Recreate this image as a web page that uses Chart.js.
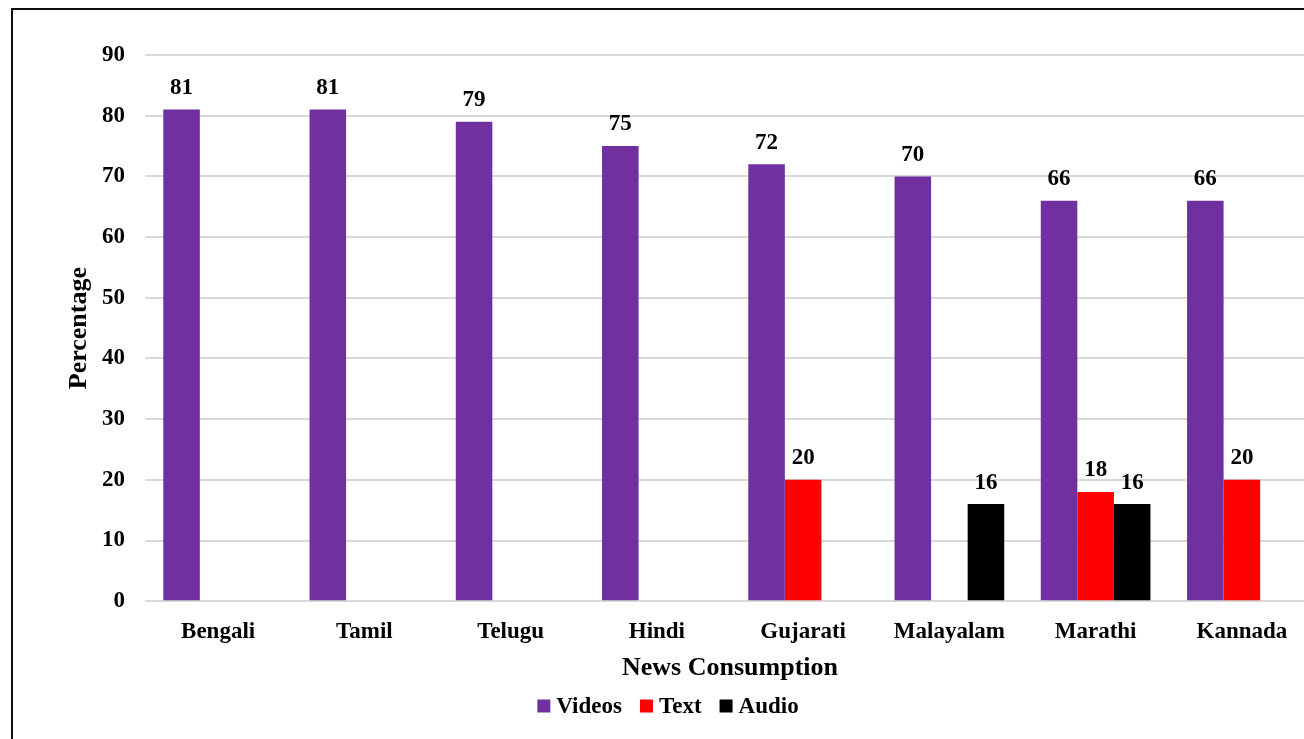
<!DOCTYPE html>
<html>
<head>
<meta charset="utf-8">
<script src="https://cdn.jsdelivr.net/npm/chart.js@4.4.0/dist/chart.umd.min.js"></script>
<style>
    html, body { margin: 0; padding: 0; background: #fff; overflow: hidden; width: 1304px; height: 739px; }
    #frame { position: absolute; left: 11px; top: 8px; width: 1340px; height: 780px; border: 2px solid #111; }
    #wrap { position: absolute; left: 0; top: 0; width: 1330px; height: 739px; }
</style>
</head>
<body>
<div id="frame"></div>
<div id="wrap"><canvas id="chart"></canvas></div>
<script>
// News consumption by language
const languages = ["Bengali", "Tamil", "Telugu", "Hindi", "Gujarati", "Malayalam", "Marathi", "Kannada"];
const videos = [81, 81, 79, 75, 72, 70, 66, 66];
const text = [null, null, null, null, 20, null, 18, 20];
const audio = [null, null, null, null, null, 16, 16, null];
const yTicks = [0, 10, 20, 30, 40, 50, 60, 70, 80, 90];

const serif = "'Liberation Serif', 'Times New Roman', serif";

// draws the value above each bar
const barLabels = {
    id: "barLabels",
    afterDatasetsDraw(chart) {
        const ctx = chart.ctx;
        ctx.save();
        ctx.font = "bold 23px " + serif;
        ctx.fillStyle = "#000";
        ctx.textAlign = "center";
        ctx.textBaseline = "bottom";
        chart.data.datasets.forEach((ds, i) => {
            const meta = chart.getDatasetMeta(i);
            meta.data.forEach((bar, j) => {
                const v = ds.data[j];
                if (v === null || v === undefined) return;
                ctx.fillText(String(v), bar.x, bar.y - 10);
            });
        });
        ctx.restore();
    }
};

// legend at the bottom, Excel-like spacing (small gap box->text)
const bottomLegend = {
    id: "bottomLegend",
    afterDraw(chart) {
        const ctx = chart.ctx;
        const box = 13, gapText = 6, gapItem = 18;
        const cy = 706, cx = 668;
        ctx.save();
        ctx.font = "bold 23px " + serif;
        ctx.textBaseline = "middle";
        ctx.textAlign = "left";
        const items = chart.data.datasets.map(ds => ({
            label: ds.label, color: ds.backgroundColor, w: ctx.measureText(ds.label).width
        }));
        let total = 0;
        items.forEach((it, i) => { total += box + gapText + it.w + (i ? gapItem : 0); });
        let x = cx - total / 2;
        items.forEach(it => {
            ctx.fillStyle = it.color;
            ctx.fillRect(x, cy - box / 2, box, box);
            ctx.fillStyle = "#000";
            ctx.fillText(it.label, x + box + gapText, cy + 1);
            x += box + gapText + it.w + gapItem;
        });
        ctx.restore();
    }
};

new Chart(document.getElementById("chart"), {
    type: "bar",
    data: {
        labels: languages,
        datasets: [
            { label: "Videos", data: videos, backgroundColor: "#7030A0" },
            { label: "Text", data: text, backgroundColor: "#FF0000" },
            { label: "Audio", data: audio, backgroundColor: "#000000" }
        ]
    },
    options: {
        responsive: true,
        maintainAspectRatio: false,
        animation: false,
        datasets: {
            bar: { categoryPercentage: 0.75, barPercentage: 1.0 }
        },
        layout: { padding: { left: 58, right: 15, top: 55, bottom: 55 } },
        plugins: {
            tooltip: { enabled: false },
            legend: { display: false }
        },
        scales: {
            x: {
                grid: { display: false },
                border: { display: false },
                ticks: {
                    color: "#000",
                    font: { family: serif, size: 23, weight: "bold" },
                    padding: 9,
                    maxRotation: 0
                },
                title: {
                    display: true,
                    text: "News Consumption",
                    color: "#000",
                    font: { family: serif, size: 26, weight: "bold" },
                    padding: { top: -2, bottom: 0 }
                }
            },
            y: {
                min: 0,
                max: 90,
                afterBuildTicks(scale) {
                    scale.ticks = yTicks.map(v => ({ value: v }));
                },
                afterFit(scale) {
                    scale.width = 87;
                },
                grid: { color: "#d9d9d9", lineWidth: 2, drawTicks: false },
                border: { display: false },
                ticks: {
                    color: "#000",
                    font: { family: serif, size: 23, weight: "bold" },
                    padding: 20
                },
                title: {
                    display: true,
                    text: "Percentage",
                    color: "#000",
                    font: { family: serif, size: 26, weight: "bold" },
                    padding: { top: 6, bottom: 4 }
                }
            }
        }
    },
    plugins: [barLabels, bottomLegend]
});
</script>
</body>
</html>
